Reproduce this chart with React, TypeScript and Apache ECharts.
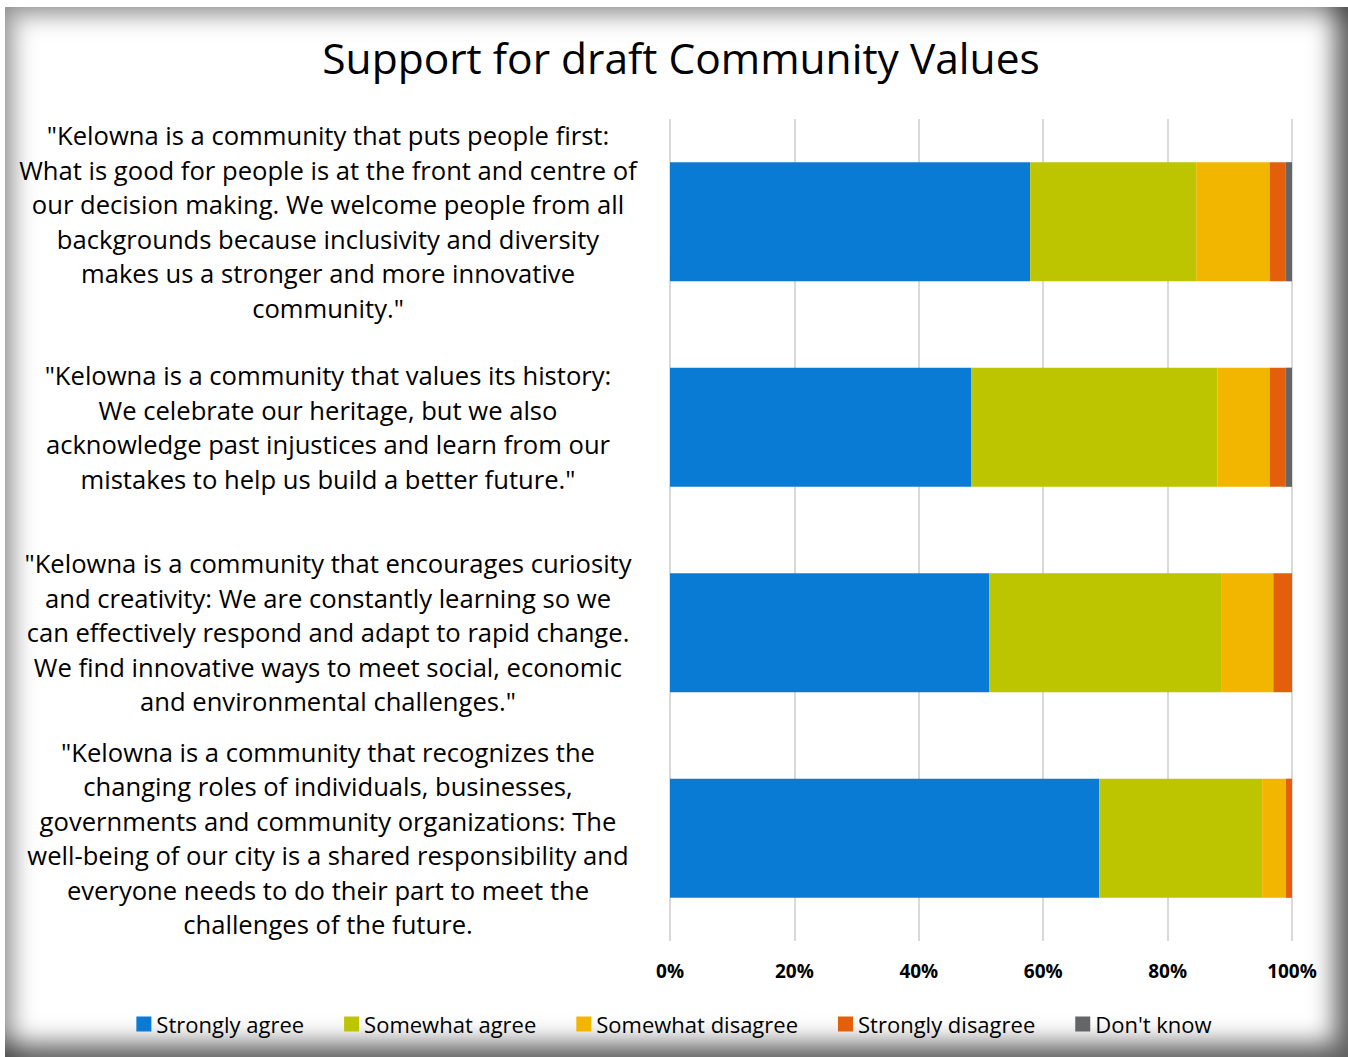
import React, { useEffect, useRef } from "react";
import * as echarts from "echarts";

const title = "Support for draft Community Values";
const categories = [
  '"Kelowna is a community that puts people first:\nWhat is good for people is at the front and centre of\nour decision making. We welcome people from all\nbackgrounds because inclusivity and diversity\nmakes us a stronger and more innovative\ncommunity."',
  '"Kelowna is a community that values its history:\nWe celebrate our heritage, but we also\nacknowledge past injustices and learn from our\nmistakes to help us build a better future."',
  '"Kelowna is a community that encourages curiosity\nand creativity: We are constantly learning so we\ncan effectively respond and adapt to rapid change.\nWe find innovative ways to meet social, economic\nand environmental challenges."',
  '"Kelowna is a community that recognizes the\nchanging roles of individuals, businesses,\ngovernments and community organizations: The\nwell-being of our city is a shared responsibility and\neveryone needs to do their part to meet the\nchallenges of the future.',
];
const seriesNames = ["Strongly agree", "Somewhat agree", "Somewhat disagree", "Strongly disagree", "Don't know"];
const stronglyAgree = [57.9, 48.4, 51.3, 69.0];
const somewhatAgree = [26.7, 39.6, 37.3, 26.2];
const somewhatDisagree = [11.8, 8.4, 8.4, 3.8];
const stronglyDisagree = [2.6, 2.6, 3.0, 1.0];
const dontKnow = [1.0, 1.0, 0, 0];
const colors = ["#0A7BD5", "#BDC400", "#F2B600", "#E35F0B", "#646567"];

const FONT = "'Open Sans', Lato, sans-serif";

export default function App() {
  const ref = useRef<HTMLDivElement>(null);
  useEffect(() => {
    if (!ref.current) return;
    const chart = echarts.init(ref.current, undefined, { renderer: "svg" });
    const values = [stronglyAgree, somewhatAgree, somewhatDisagree, stronglyDisagree, dontKnow];
    chart.setOption({
      animation: false,
      color: colors,
      textStyle: { fontFamily: FONT },
      title: {
        text: title,
        left: 676,
        textAlign: "center",
        top: 31,
        textStyle: { fontSize: 42.5, fontWeight: "normal", color: "#000", fontFamily: FONT },
      },
      grid: { left: 670, right: 56, top: 119, bottom: 116, containLabel: false },
      xAxis: {
        type: "value",
        min: 0,
        max: 100,
        interval: 20,
        axisLine: { show: false },
        axisTick: { show: false },
        splitLine: { show: true, lineStyle: { color: "#d9d9d9", width: 2 } },
        axisLabel: {
          formatter: "{value}%",
          margin: 20,
          fontSize: 19,
          fontWeight: "bold",
          color: "#000",
          fontFamily: FONT,
        },
      },
      yAxis: {
        type: "category",
        inverse: true,
        data: categories,
        axisLine: { show: false },
        axisTick: { show: false },
        axisLabel: {
          margin: 342,
          align: "center",
          fontSize: 25.6,
          lineHeight: 34.5,
          color: "#000",
          fontFamily: FONT,
        },
      },
      legend: {
        bottom: 17,
        left: "center",
        icon: "rect",
        itemWidth: 15,
        itemHeight: 15,
        itemGap: 40,
        itemTextGap: 5,
        textStyle: { fontSize: 22, color: "#000", fontFamily: FONT },
        data: seriesNames,
      },
      series: seriesNames.map((name, i) => ({
        name,
        type: "bar",
        stack: "total",
        barCategoryGap: "42%",
        data: values[i],
      })),
    });
    return () => chart.dispose();
  }, []);

  return (
    <div style={{ position: "absolute", left: 0, top: 0, width: 1348, height: 1057, background: "#fff" }}>
      <div
        style={{
          position: "absolute",
          left: 5,
          top: 7,
          width: 1343,
          height: 1050,
          background: "#fff",
          boxShadow:
            "inset 10px 10px 22px rgba(0,0,0,0.35), inset -14px -14px 24px rgba(0,0,0,0.6)",
        }}
      />
      <div ref={ref} style={{ position: "absolute", left: 0, top: 0, width: 1348, height: 1057 }} />
    </div>
  );
}
